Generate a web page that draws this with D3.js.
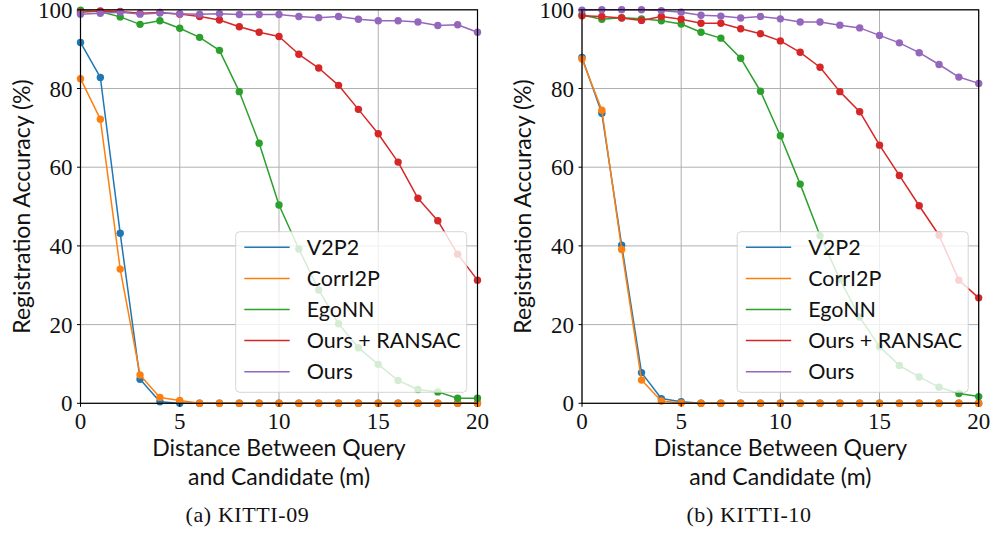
<!DOCTYPE html>
<html>
<head>
<meta charset="utf-8">
<script src="https://cdn.jsdelivr.net/npm/d3@7"></script>
<style>
  html,body{margin:0;padding:0;background:#fff}
  svg{display:block}
  .tick-label{font-family:"Liberation Serif","DejaVu Serif",serif;font-size:23px;fill:#111}
  .axis-title{font-family:Lato,"Open Sans",sans-serif;font-size:23px;fill:#111}
  .legend-text{font-family:Lato,"Open Sans",sans-serif;font-size:21.5px;fill:#111}
  .caption{font-family:"Liberation Serif","DejaVu Serif",serif;font-size:22px;letter-spacing:0.6px;fill:#111}
</style>
</head>
<body>
<svg id="chart" width="995" height="536"></svg>
<script>
// distance between query and candidate (m)
const distances = [0,1,2,3,4,5,6,7,8,9,10,11,12,13,14,15,16,17,18,19,20]
const seriesNames = ['V2P2','CorrI2P','EgoNN','Ours + RANSAC','Ours']
const seriesColors = ['#1f77b4','#ff7f0e','#2ca02c','#d62728','#9467bd']
const yTicks = [0,20,40,60,80,100]
const xTicks = [0,5,10,15,20]

// KITTI-09
const k09V2P2 = [91.7,82.8,43.2,6.1,0.4,0,0,0,0,0,0,0,0,0,0,0,0,0,0,0,0]
const k09CorrI2P = [82.5,72.2,34.1,7.2,1.5,0.7,0,0,0,0,0,0,0,0,0,0,0,0,0,0,0]
const k09EgoNN = [99.9,99.5,98.2,96.3,97.2,95.3,93.0,89.7,79.2,66.1,50.4,39.2,28.8,20.2,14.1,9.9,5.8,3.5,2.9,1.3,1.3]
const k09Ransac = [99.4,99.7,99.6,99.1,99.3,98.9,98.3,97.4,95.7,94.3,93.2,88.7,85.2,80.8,74.7,68.5,61.3,52.1,46.4,37.9,31.3]
const k09Ours = [98.9,99.1,99.4,98.9,99.2,99.0,98.9,99.0,98.8,98.8,98.8,98.3,98.0,98.3,97.6,97.2,97.2,96.9,96.0,96.2,94.3]

// KITTI-10
const k10V2P2 = [87.9,73.7,40.2,7.8,1.2,0.4,0,0,0,0,0,0,0,0,0,0,0,0,0,0,0]
const k10CorrI2P = [87.5,74.5,39.1,5.9,0.6,0.1,0,0,0,0,0,0,0,0,0,0,0,0,0,0,0]
const k10EgoNN = [98.7,97.6,98.0,97.7,97.2,96.4,94.3,92.8,87.7,79.3,68.0,55.7,42.6,31.5,21.9,14.4,9.6,6.7,4.1,2.5,1.7]
const k10Ransac = [98.5,98.3,97.9,97.3,98.3,97.6,96.6,96.6,95.2,93.9,92.1,89.2,85.4,79.2,74.1,65.6,57.9,50.2,42.7,31.3,26.8]
const k10Ours = [99.9,100,100,100,99.8,99.4,98.6,98.4,97.9,98.3,97.7,96.9,96.9,96.1,95.4,93.5,91.6,89.1,86.1,82.9,81.3]

const panels = [
  {caption:'(a) KITTI-09', left:80.5, right:477.5, series:[k09V2P2,k09CorrI2P,k09EgoNN,k09Ransac,k09Ours]},
  {caption:'(b) KITTI-10', left:582, right:978.7, series:[k10V2P2,k10CorrI2P,k10EgoNN,k10Ransac,k10Ours]}
]
const plotTop = 9.8, plotBottom = 403.3

const svg = d3.select('#chart')

panels.forEach(p=>{
  const x = d3.scaleLinear().domain([0,20]).range([p.left,p.right])
  const y = d3.scaleLinear().domain([0,100]).range([plotBottom,plotTop])
  const g = svg.append('g')

  // grid
  g.selectAll('.gx').data(xTicks).enter().append('line')
    .attr('x1',d=>x(d)).attr('x2',d=>x(d))
    .attr('y1',plotTop).attr('y2',plotBottom)
    .attr('stroke','#b0b0b0').attr('stroke-width',1)
  g.selectAll('.gy').data(yTicks).enter().append('line')
    .attr('x1',p.left).attr('x2',p.right)
    .attr('y1',d=>y(d)).attr('y2',d=>y(d))
    .attr('stroke','#b0b0b0').attr('stroke-width',1)

  // series
  const line = d3.line()
    .x((d,i)=>x(distances[i]))
    .y(d=>y(d))
  p.series.forEach((vals,si)=>{
    g.append('path')
      .datum(vals)
      .attr('fill','none')
      .attr('stroke',seriesColors[si])
      .attr('stroke-width',1.5)
      .attr('stroke-linejoin','round')
      .attr('d',line)
    g.selectAll(null).data(vals).enter().append('circle')
      .attr('cx',(d,i)=>x(distances[i]))
      .attr('cy',d=>y(d))
      .attr('r',3.7)
      .attr('fill',seriesColors[si])
  })

  // spines
  g.append('rect')
    .attr('x',p.left).attr('y',plotTop)
    .attr('width',p.right-p.left).attr('height',plotBottom-plotTop)
    .attr('fill','none').attr('stroke','#000').attr('stroke-width',1.2)

  // ticks
  g.selectAll('.tx').data(xTicks).enter().append('line')
    .attr('x1',d=>x(d)).attr('x2',d=>x(d))
    .attr('y1',plotBottom).attr('y2',plotBottom+3.5)
    .attr('stroke','#000')
  g.selectAll('.ty').data(yTicks).enter().append('line')
    .attr('x1',p.left-3.5).attr('x2',p.left)
    .attr('y1',d=>y(d)).attr('y2',d=>y(d))
    .attr('stroke','#000')
  g.selectAll('.lx').data(xTicks).enter().append('text')
    .attr('class','tick-label')
    .attr('x',d=>x(d)).attr('y',plotBottom+26)
    .attr('text-anchor','middle')
    .text(d=>d)
  g.selectAll('.ly').data(yTicks).enter().append('text')
    .attr('class','tick-label')
    .attr('x',p.left-8).attr('y',d=>y(d)+8)
    .attr('text-anchor','end')
    .text(d=>d)

  // axis titles
  const cx = (p.left+p.right)/2
  g.append('text').attr('class','axis-title')
    .attr('x',cx).attr('y',456).attr('text-anchor','middle')
    .text('Distance Between Query')
  g.append('text').attr('class','axis-title')
    .attr('x',cx).attr('y',485).attr('text-anchor','middle')
    .text('and Candidate (m)')
  g.append('text').attr('class','axis-title')
    .attr('transform',`translate(${p.left-51},${(plotTop+plotBottom)/2}) rotate(-90)`)
    .attr('text-anchor','middle')
    .text('Registration Accuracy (%)')

  // caption
  g.append('text').attr('class','caption')
    .attr('x',p.left+167).attr('y',522).attr('text-anchor','middle')
    .text(p.caption)

  // legend
  const lx = p.left+155.2, ly = 231.7, lw = 231, lh = 160.6
  const leg = g.append('g').attr('transform',`translate(${lx},${ly})`)
  leg.append('rect')
    .attr('width',lw).attr('height',lh).attr('rx',4)
    .attr('fill','#fff').attr('fill-opacity',0.8)
    .attr('stroke','#ccc').attr('stroke-opacity',0.8)
  seriesNames.forEach((name,i)=>{
    const ry = 15.6+i*31.1
    leg.append('line')
      .attr('x1',8.6).attr('x2',54).attr('y1',ry).attr('y2',ry)
      .attr('stroke',seriesColors[i]).attr('stroke-width',1.5)
    leg.append('text').attr('class','legend-text')
      .attr('x',71).attr('y',ry+7.5)
      .text(name)
  })
})
</script>
</body>
</html>
